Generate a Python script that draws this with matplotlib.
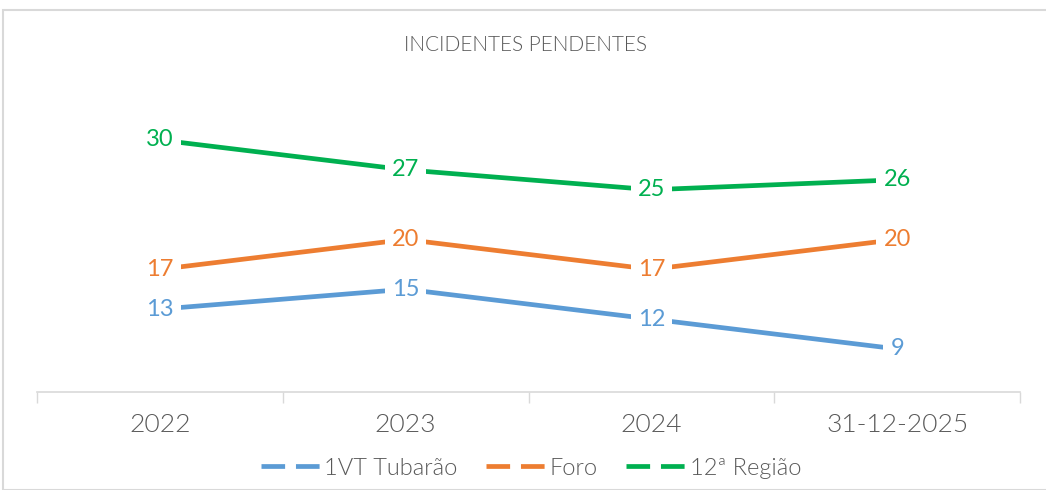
import matplotlib.pyplot as plt
from matplotlib.patches import Rectangle
from matplotlib.lines import Line2D

categorias = ["2022", "2023", "2024", "31-12-2025"]
tubarao = [13, 15, 12, 9]
foro = [17, 20, 17, 20]
regiao = [30, 27, 25, 26]
series = [("1VT Tubarão", tubarao, "#5B9BD5"),
          ("Foro", foro, "#ED7D31"),
          ("12ª Região", regiao, "#00B050")]

plt.rcParams['font.family'] = ['Lato', 'DejaVu Sans']

fig = plt.figure(figsize=(10.46, 4.90), dpi=100)
# light gray chart border (cut off at right and bottom as in the screenshot)
fig.patches.append(Rectangle((3 / 1046, 0), 1.1, 1 - 10 / 490, transform=fig.transFigure,
                             fill=False, edgecolor="#D9D9D9", linewidth=1.5))
ax = fig.add_axes([37 / 1046, 1 - 392 / 490, (1020 - 37) / 1046, (392 - 60) / 490])

x = list(range(len(categorias)))
for nome, vals, cor in series:
    ax.plot(x, vals, color=cor, linewidth=3.4, solid_capstyle="butt")
    for xi, v in zip(x, vals):
        ax.text(xi, v, str(v), color=cor, fontsize=17, ha="center", va="center",
                bbox=dict(boxstyle="square,pad=0.3", facecolor="white", edgecolor="none"))

ax.set_xlim(-0.5, 3.5)
ax.set_ylim(4.67, 38.04)
ax.set_yticks([])
ax.set_xticks(x)
ax.set_xticklabels(categorias, fontsize=19, color="#595959", fontweight=300)
ax.set_xticks([-0.5, 0.5, 1.5, 2.5, 3.5], minor=True)
ax.tick_params(axis="x", which="major", length=0, pad=15)
ax.tick_params(axis="x", which="minor", length=8, color="#D9D9D9", width=1)
for s in ["top", "right", "left"]:
    ax.spines[s].set_visible(False)
ax.spines["bottom"].set_color("#D9D9D9")
ax.spines["bottom"].set_linewidth(1.2)

fig.text(526 / 1046, 1 - 45 / 490, "INCIDENTES PENDENTES", ha="center", va="center",
         fontsize=15, color="#595959", fontweight=300)

alcas = [Line2D([0], [0], color=c, linewidth=3.4, linestyle=(0, (5, 2.3))) for _, _, c in series]
fig.legend(alcas, [n for n, _, _ in series], loc="center", bbox_to_anchor=(531 / 1046, 1 - 468 / 490),
           ncol=3, frameon=False, handlelength=2.5, columnspacing=1.2, handletextpad=0.2,
           prop={"size": 17, "weight": 300}, labelcolor="#595959")

fig.savefig("out.png", dpi=100)
